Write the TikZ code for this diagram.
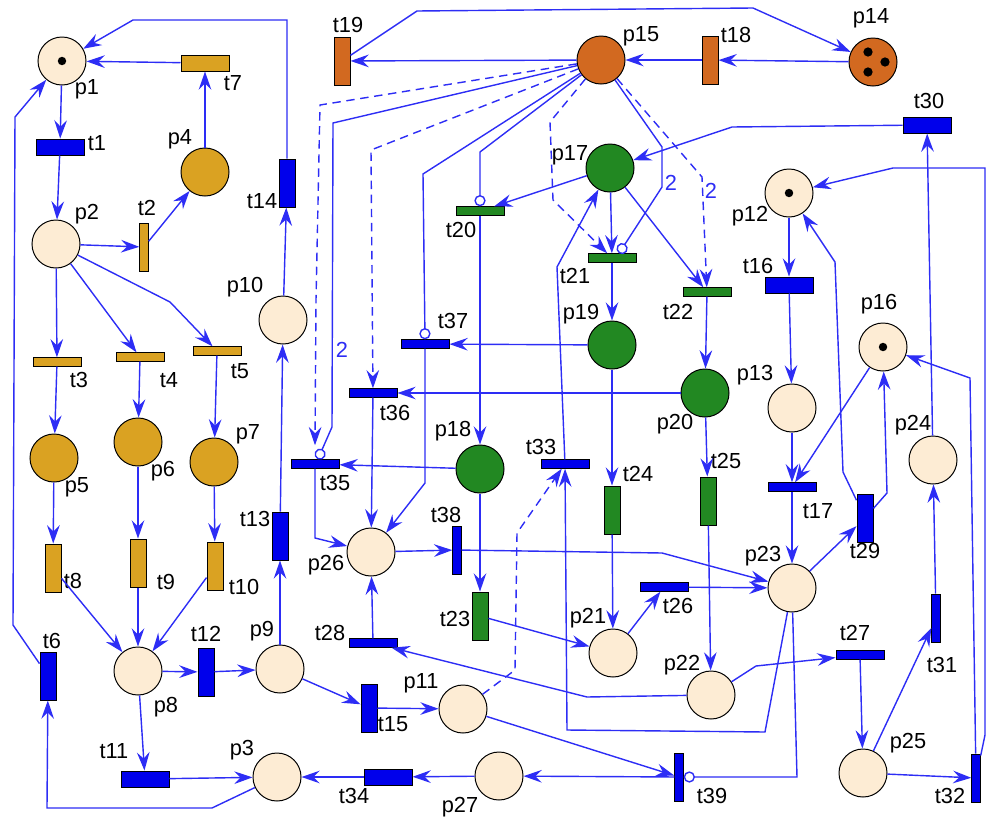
\documentclass[tikz,border=0pt]{standalone}
\usepackage{fontspec}
\setmainfont{Liberation Sans}
\usepackage{xcolor}
\usepackage{tikz}
\usetikzlibrary{arrows.meta, positioning}
\definecolor{pale}{RGB}{253,236,212}
\definecolor{gold}{RGB}{218,162,34}
\definecolor{rust}{RGB}{210,105,32}
\definecolor{leaf}{RGB}{34,136,34}
\definecolor{tbar}{RGB}{0,0,235}
\definecolor{wire}{RGB}{45,45,245}

\begin{document}
\begin{tikzpicture}[x=0.025cm,y=-0.025cm,
  >={Stealth[length=13pt,width=9pt,inset=4.5pt]},
  pl/.style={circle,draw,line width=0.7pt,minimum size=1.2cm,inner sep=0pt,fill=pale},
  hbar/.style={draw,line width=0.7pt,fill=tbar,minimum width=1.2cm,minimum height=0.4cm,inner sep=0pt},
  vbar/.style={hbar,minimum width=0.4cm,minimum height=1.2cm},
  hthin/.style={hbar,minimum height=0.21cm},
  vthin/.style={hbar,minimum width=0.21cm,minimum height=1.2cm},
  lbl/.style={font=\fontsize{15.5}{17}\selectfont,inner sep=0pt},
  flow/.style={->,wire,line width=1pt},
  inh/.style={-{Circle[open,length=8pt]},wire,line width=1pt},
  readarc/.style={flow,dash pattern=on 6pt off 4pt}]
  \useasboundingbox (0,0) rectangle (987,816);

  % places
  \node[pl] (p1) at (62,61) {};
  \node[pl] (p2) at (56,244) {};
  \node[pl] (p3) at (277,777) {};
  \node[pl,fill=gold] (p4) at (205,172) {};
  \node[pl,fill=gold] (p5) at (54,458) {};
  \node[pl,fill=gold] (p6) at (138,442) {};
  \node[pl,fill=gold] (p7) at (214,462) {};
  \node[pl] (p8) at (138,671) {};
  \node[pl] (p9) at (280,669) {};
  \node[pl] (p10) at (283,320) {};
  \node[pl] (p11) at (463,709) {};
  \node[pl] (p12) at (789,193) {};
  \node[pl] (p13) at (792,408) {};
  \node[pl,fill=rust] (p14) at (873,62) {};
  \node[pl,fill=rust] (p15) at (601,60) {};
  \node[pl] (p16) at (883,347) {};
  \node[pl,fill=leaf] (p17) at (610,168) {};
  \node[pl,fill=leaf] (p18) at (480,469) {};
  \node[pl,fill=leaf] (p19) at (612,345) {};
  \node[pl,fill=leaf] (p20) at (705,393) {};
  \node[pl] (p21) at (613,653) {};
  \node[pl] (p22) at (711,695) {};
  \node[pl] (p23) at (792,588) {};
  \node[pl] (p24) at (933,460) {};
  \node[pl] (p25) at (863,773) {};
  \node[pl] (p26) at (371,552) {};
  \node[pl] (p27) at (499,776) {};

  % tokens
  \fill (p1) circle[radius=3pt];
  \fill (p12) circle[radius=3pt];
  \fill (p16) circle[radius=3pt];
  \fill ([shift={(-5,-10)}]p14.center) circle[radius=3.3pt];
  \fill ([shift={(12,0)}]p14.center) circle[radius=3.3pt];
  \fill ([shift={(-5,10)}]p14.center) circle[radius=3.3pt];

  % transitions
  \node[hbar] (t1) at (60,147) {};
  \node[vthin,fill=gold] (t2) at (144,247) {};
  \node[hthin,fill=gold] (t3) at (57,362) {};
  \node[hthin,fill=gold] (t4) at (140,357) {};
  \node[hthin,fill=gold] (t5) at (217,351) {};
  \node[vbar] (t6) at (48,676) {};
  \node[hbar,fill=gold] (t7) at (205,63) {};
  \node[vbar,fill=gold] (t8) at (53,568) {};
  \node[vbar,fill=gold] (t9) at (138,563) {};
  \node[vbar,fill=gold] (t10) at (215,566) {};
  \node[hbar] (t11) at (145,779) {};
  \node[vbar] (t12) at (206,672) {};
  \node[vbar] (t13) at (280,536) {};
  \node[vbar] (t14) at (287,183) {};
  \node[vbar] (t15) at (369,708) {};
  \node[hbar] (t16) at (789,285) {};
  \node[hthin] (t17) at (792,487) {};
  \node[vbar,fill=rust] (t18) at (710,60) {};
  \node[vbar,fill=rust] (t19) at (342,61) {};
  \node[hthin,fill=leaf] (t20) at (480,211) {};
  \node[hthin,fill=leaf] (t21) at (612,258) {};
  \node[hthin,fill=leaf] (t22) at (707,292) {};
  \node[vbar,fill=leaf] (t23) at (480,616) {};
  \node[vbar,fill=leaf] (t24) at (612,510) {};
  \node[vbar,fill=leaf] (t25) at (708,501) {};
  \node[hthin] (t26) at (664,587) {};
  \node[hthin] (t27) at (860,655) {};
  \node[hthin] (t28) at (373,643) {};
  \node[vbar] (t29) at (865,518) {};
  \node[hbar] (t30) at (927,125) {};
  \node[vthin] (t31) at (936,618) {};
  \node[vthin] (t32) at (976,778) {};
  \node[hthin] (t33) at (565,464) {};
  \node[hbar] (t34) at (388,777) {};
  \node[hthin] (t35) at (315,464) {};
  \node[hthin] (t36) at (373,393) {};
  \node[hthin] (t37) at (425,344) {};
  \node[vthin] (t38) at (457,550) {};
  \node[vthin] (t39) at (679,777) {};

  % labels
  \node[lbl] (lp1) at (87,89) {p1};
  \node[lbl] (lp2) at (87,214) {p2};
  \node[lbl] (lp3) at (242,750) {p3};
  \node[lbl] (lp4) at (180,139) {p4};
  \node[lbl] (lp5) at (77,487) {p5};
  \node[lbl] (lp6) at (163,471) {p6};
  \node[lbl] (lp7) at (248,434) {p7};
  \node[lbl] (lp8) at (166,707) {p8};
  \node[lbl] (lp9) at (262,631) {p9};
  \node[lbl] (lp10) at (245,287) {p10};
  \node[lbl] (lp11) at (421,683) {p11};
  \node[lbl] (lp12) at (750,216) {p12};
  \node[lbl] (lp13) at (755,375) {p13};
  \node[lbl] (lp14) at (871,18) {p14};
  \node[lbl] (lp15) at (641,36) {p15};
  \node[lbl] (lp16) at (879,304) {p16};
  \node[lbl] (lp17) at (570,155) {p17};
  \node[lbl] (lp18) at (453,431) {p18};
  \node[lbl] (lp19) at (581,314) {p19};
  \node[lbl] (lp20) at (675,424) {p20};
  \node[lbl] (lp21) at (588,618) {p21};
  \node[lbl] (lp22) at (682,665) {p22};
  \node[lbl] (lp23) at (763,556) {p23};
  \node[lbl] (lp24) at (913,425) {p24};
  \node[lbl] (lp25) at (908,743) {p25};
  \node[lbl] (lp26) at (326,565) {p26};
  \node[lbl] (lp27) at (460,807) {p27};
  \node[lbl] (lt1) at (97,143) {t1};
  \node[lbl] (lt2) at (147,208) {t2};
  \node[lbl] (lt3) at (79,380) {t3};
  \node[lbl] (lt4) at (169,380) {t4};
  \node[lbl] (lt5) at (240,371) {t5};
  \node[lbl] (lt6) at (52,641) {t6};
  \node[lbl] (lt7) at (233,83) {t7};
  \node[lbl] (lt8) at (73,581) {t8};
  \node[lbl] (lt9) at (166,582) {t9};
  \node[lbl] (lt10) at (244,587) {t10};
  \node[lbl] (lt11) at (114,751) {t11};
  \node[lbl] (lt12) at (206,634) {t12};
  \node[lbl] (lt13) at (255,519) {t13};
  \node[lbl] (lt14) at (262,201) {t14};
  \node[lbl] (lt15) at (393,724) {t15};
  \node[lbl] (lt16) at (758,266) {t16};
  \node[lbl] (lt17) at (818,511) {t17};
  \node[lbl] (lt18) at (736,35) {t18};
  \node[lbl] (lt19) at (348,25) {t19};
  \node[lbl] (lt20) at (461,230) {t20};
  \node[lbl] (lt21) at (575,276) {t21};
  \node[lbl] (lt22) at (678,312) {t22};
  \node[lbl] (lt23) at (455,619) {t23};
  \node[lbl] (lt24) at (638,474) {t24};
  \node[lbl] (lt25) at (726,461) {t25};
  \node[lbl] (lt26) at (678,606) {t26};
  \node[lbl] (lt27) at (855,633) {t27};
  \node[lbl] (lt28) at (330,633) {t28};
  \node[lbl] (lt29) at (865,551) {t29};
  \node[lbl] (lt30) at (929,101) {t30};
  \node[lbl] (lt31) at (942,665) {t31};
  \node[lbl] (lt32) at (950,796) {t32};
  \node[lbl] (lt33) at (541,447) {t33};
  \node[lbl] (lt34) at (354,796) {t34};
  \node[lbl] (lt35) at (335,483) {t35};
  \node[lbl] (lt36) at (395,413) {t36};
  \node[lbl] (lt37) at (453,321) {t37};
  \node[lbl] (lt38) at (446,515) {t38};
  \node[lbl] (lt39) at (712,796) {t39};
  \node[lbl,wire] (w35) at (342,350) {2};
  \node[lbl,wire] (w21) at (671,183) {2};
  \node[lbl,wire] (w22) at (711,191) {2};

  % left part
  \draw[flow] (p1) -- (t1);
  \draw[flow] (t1) -- (p2);
  \draw[flow] (p2) -- (t2);
  \draw[flow] (t2) -- (p4);
  \draw[flow] (p4) -- (t7);
  \draw[flow] (t7) -- (p1);
  \draw[flow] (t14) -- (287,20) -- (133,20) -- (p1);
  \draw[flow] (t6) -- (13,625) -- (15,117) -- (p1);
  \draw[flow] (p2) -- (t3);
  \draw[flow] (p2) -- (t4);
  \draw[flow] (p2) -- (170,302) -- (t5);
  \draw[flow] (t3) -- (p5);
  \draw[flow] (t4) -- (p6);
  \draw[flow] (t5) -- (p7);
  \draw[flow] (p5) -- (t8);
  \draw[flow] (p6) -- (t9);
  \draw[flow] (p7) -- (t10);
  \draw[flow] (t8) -- (p8);
  \draw[flow] (t9) -- (p8);
  \draw[flow] (t10) -- (p8);
  \draw[flow] (p8) -- (t12);
  \draw[flow] (t12) -- (p9);
  \draw[flow] (p8) -- (t11);
  \draw[flow] (t11) -- (p3);
  \draw[flow] (p3) -- (212,808) -- (47,808) -- (t6);
  \draw[flow] (p9) -- (t13);
  \draw[flow] (t13) -- (p10);
  \draw[flow] (p10) -- (t14);
  \draw[flow] (p9) -- (t15);
  \draw[flow] (t15) -- (p11);
  \draw[flow] (p27) -- (t34);
  \draw[flow] (t34) -- (p3);
  \draw[flow] (p11) -- (t39);
  \draw[flow] (t39) -- (p27);
  \draw[inh] (p23) -- (797,777) -- (t39);

  % top part
  \draw[flow] (p14) -- (t18);
  \draw[flow] (t18) -- (p15);
  \draw[flow] (p15) -- (t19);
  \draw[flow] (t19) -- (417,11) -- (753,8) -- (p14);
  \draw[inh] (p15) -- (480,152) -- (t20.north);
  \draw[inh] (p15) -- (423,174) -- (t37.north);
  \draw[inh] (p15) -- (333,123) -- (332,427) -- ([xshift=2pt]t35.north);
  \draw[readarc] (p15) -- (320,105) -- (316,300) -- ([yshift=10pt]t35.north);
  \draw[readarc] (p15) -- (371,150) -- (t36);
  \draw[readarc] (p15) -- (550,122) -- (553,200) -- (t21);
  \draw[readarc] (p15) -- (702,177) -- (t22);
  \draw[inh] (p15) -- (662,147) -- (662,187) -- ([xshift=5pt]t21.north);

  % middle part
  \draw[flow] (t30) -- (732,127) -- (p17);
  \draw[flow] (p17) -- (t20);
  \draw[flow] (t20) -- (p18);
  \draw[flow] (p17) -- (t21);
  \draw[flow] (p17) -- (t22);
  \draw[flow] (t33) -- (557,267) -- (p17);
  \draw[flow] (t21) -- (p19);
  \draw[flow] (t22) -- (p20);
  \draw[flow] (p19) -- (t24);
  \draw[flow] (t24) -- (p21);
  \draw[flow] (p20) -- (t25);
  \draw[flow] (t25) -- (p22);
  \draw[flow] (p19) -- (t37);
  \draw[flow] (p20) -- (t36);
  \draw[flow] (p18) -- (t35);
  \draw[flow] (t36) -- (p26);
  \draw[flow] (t37) -- (425,483) -- (p26);
  \draw[flow] (t35) -- (315,538) -- (p26);
  \draw[flow] (p26) -- (t38);
  \draw[flow] (t38) -- (662,553) -- (p23);
  \draw[flow] (t28) -- (p26);
  \draw[flow] (p22) -- (587,697) -- (t28);
  \draw[flow] (p18) -- (t23);
  \draw[flow] (t23) -- (p21);
  \draw[readarc] (p11) -- (515,670) -- (517,533) -- (t33);
  \draw[flow] (p23) -- (765,732) -- (567,730) -- (t33);
  \draw[flow] (p21) -- (t26);
  \draw[flow] (t26) -- (p23);

  % right part
  \draw[flow] (p22) -- (756,666) -- (t27);
  \draw[flow] (t27) -- (p25);
  \draw[flow] (p25) -- (t31);
  \draw[flow] (t31) -- (p24);
  \draw[flow] (p24) -- (t30);
  \draw[flow] (p25) -- (t32);
  \draw[flow] (t32) -- (970,378) -- (p16);
  \draw[flow] (t32) -- (985,735) -- (985,168) -- (893,168) -- (p12);
  \draw[flow] (p16) -- (t17);
  \draw[flow] (p13) -- (t17);
  \draw[flow] (t16) -- (p13);
  \draw[flow] (p12) -- (t16);
  \draw[flow] (t17) -- (p23);
  \draw[flow] (p23) -- (t29);
  \draw[flow] (t29) -- (887,493) -- (p16);
  \draw[flow] (t29) -- (843,472) -- (835,262) -- (p12);
\end{tikzpicture}
\end{document}
